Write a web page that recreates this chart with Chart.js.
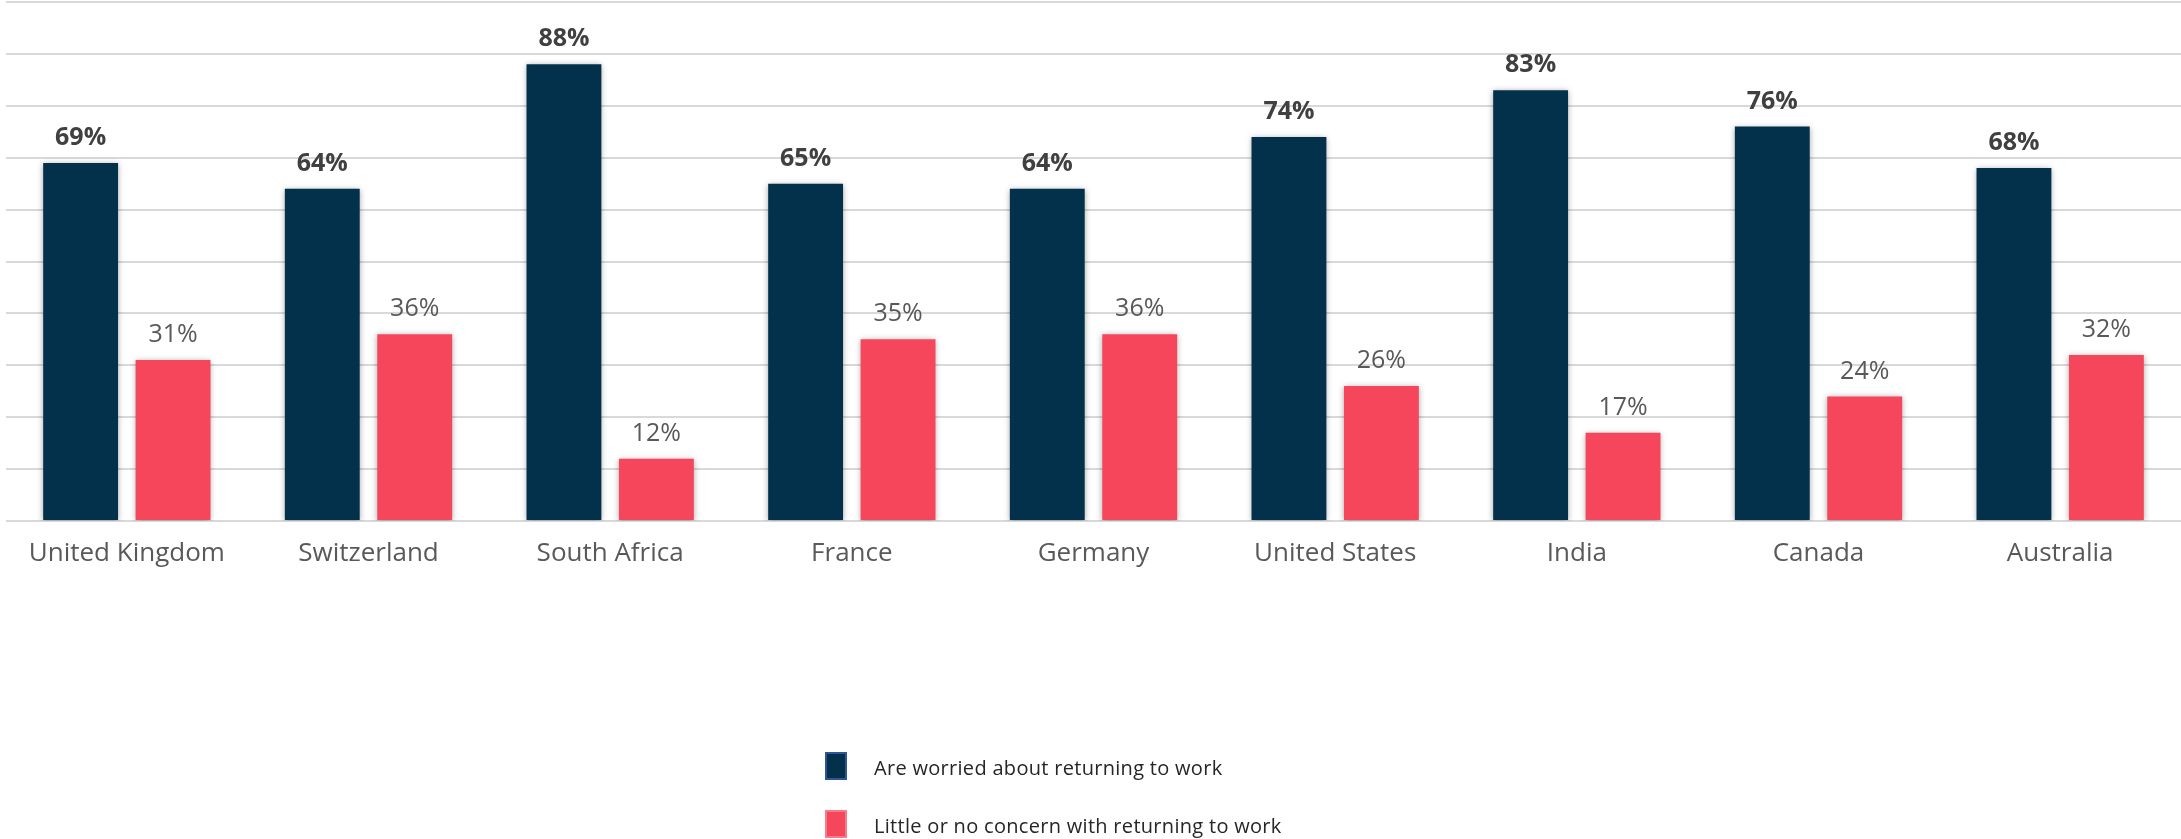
<!DOCTYPE html>
<html>
<head>
<meta charset="utf-8">
<script src="https://cdn.jsdelivr.net/npm/chart.js@4.4.1/dist/chart.umd.min.js"></script>
<style>
  html, body { margin: 0; padding: 0; background: #ffffff; }
  #wrap { position: relative; width: 2181px; height: 839px; }
  #chart { position: absolute; left: 0; top: 0; }
  #legend { position: absolute; left: 825px; top: 752px; font-family: "Open Sans", sans-serif; font-size: 20px; letter-spacing: 0.3px; color: #262626; }
  .item { position: absolute; left: 0; white-space: nowrap; height: 28px; }
  .swatch { position: absolute; left: 0; top: 0; width: 22px; height: 28px; box-sizing: border-box; }
  .label { position: absolute; left: 49px; top: 2px; line-height: 28px; }
</style>
</head>
<body>
<div id="wrap">
  <canvas id="chart" width="2181" height="839"></canvas>
  <div id="legend"></div>
</div>
<script>
// Share of workers by country
const countries = ["United Kingdom", "Switzerland", "South Africa", "France", "Germany", "United States", "India", "Canada", "Australia"];
const worried = [69, 64, 88, 65, 64, 74, 83, 76, 68];
const littleConcern = [31, 36, 12, 35, 36, 26, 17, 24, 32];
const seriesNames = ["Are worried about returning to work", "Little or no concern with returning to work"];

const NAVY = "#03314b";
const CORAL = "#f5465c";
const FONT = '"Open Sans", sans-serif';

// Soft drop shadow under the bars, then value labels above each bar
const barDecor = {
  id: "barDecor",
  beforeDatasetsDraw(chart) {
    const ctx = chart.ctx;
    ctx.save();
    ctx.shadowColor = "rgba(0,0,0,0.35)";
    ctx.shadowBlur = 6;
    ctx.shadowOffsetX = 0;
    ctx.shadowOffsetY = 1;
  },
  afterDatasetsDraw(chart) {
    const ctx = chart.ctx;
    ctx.restore();
    ctx.save();
    ctx.textAlign = "center";
    ctx.textBaseline = "middle";
    chart.data.datasets.forEach((ds, di) => {
      const meta = chart.getDatasetMeta(di);
      const bold = di === 0;
      ctx.font = (bold ? "700 " : "400 ") + "25px " + FONT;
      ctx.fillStyle = bold ? "#404040" : "#595959";
      meta.data.forEach((bar, i) => {
        ctx.fillText(ds.data[i] + "%", bar.x, bar.y - 25);
      });
    });
    ctx.restore();
  }
};

const chart = new Chart(document.getElementById("chart"), {
  type: "bar",
  data: {
    labels: countries,
    datasets: [
      { label: seriesNames[0], data: worried, backgroundColor: NAVY, borderColor: "#2f5597" },
      { label: seriesNames[1], data: littleConcern, backgroundColor: CORAL, borderColor: "#f77a89" }
    ]
  },
  options: {
    responsive: false,
    animation: false,
    categoryPercentage: 0.765,
    barPercentage: 0.81,
    layout: { padding: { left: 6, top: 2, right: 0, bottom: 258 } },
    plugins: {
      legend: { display: false },
      tooltip: { enabled: false }
    },
    scales: {
      x: {
        grid: { display: false },
        border: { display: false },
        ticks: {
          color: "#595959",
          font: { family: FONT, size: 26 },
          padding: 9,
          maxRotation: 0
        },
        afterFit(scale) { scale.height = 60; }
      },
      y: {
        min: 0,
        max: 100,
        ticks: { display: false, stepSize: 10 },
        border: { display: false },
        grid: { color: "#d9d9d9", lineWidth: 2, drawTicks: false }
      }
    }
  },
  plugins: [barDecor]
});

// Vertical legend built from the chart's datasets
const legend = document.getElementById("legend");
chart.data.datasets.forEach((ds, i) => {
  const item = document.createElement("div");
  item.className = "item";
  item.style.top = (i * 58) + "px";
  const sw = document.createElement("div");
  sw.className = "swatch";
  sw.style.background = ds.backgroundColor;
  sw.style.border = "2px solid " + ds.borderColor;
  const lb = document.createElement("div");
  lb.className = "label";
  lb.textContent = ds.label;
  item.appendChild(sw);
  item.appendChild(lb);
  legend.appendChild(item);
});
</script>
</body>
</html>
